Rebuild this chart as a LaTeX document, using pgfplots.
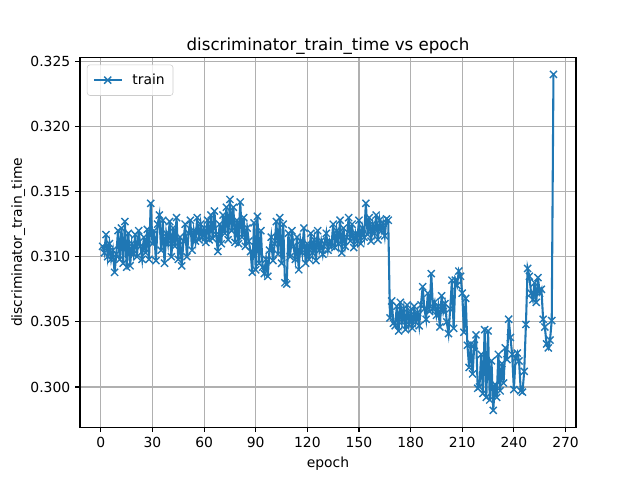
\documentclass[border=0pt]{standalone}
\usepackage{fontspec}
\setmainfont{DejaVu Sans}
\usepackage{pgfplots}
\pgfplotsset{compat=1.18}
\definecolor{mplblue}{HTML}{1F77B4}
\definecolor{mplgrid}{HTML}{B0B0B0}
\definecolor{legframe}{HTML}{CCCCCC}
\begin{document}
\begin{tikzpicture}
\useasboundingbox (-0.8in,-0.528in) rectangle (5.6in,4.272in);
\begin{axis}[
  at={(0,0)}, anchor=south west,
  scale only axis,
  width=4.96in, height=3.696in,
  xmin=-12.1, xmax=276.1,
  ymin=0.29691, ymax=0.32529,
  xtick={0,30,...,270},
  ytick={0.300,0.305,0.310,0.315,0.320,0.325},
  scaled y ticks=false,
  /pgf/number format/assume math mode=true,
  y tick label style={/pgf/number format/.cd, fixed, fixed zerofill, precision=3},
  tick label style={font=\fontsize{10bp}{12bp}\selectfont},
  label style={font=\fontsize{10bp}{12bp}\selectfont},
  ylabel style={yshift=-3bp},
  title style={font=\fontsize{12bp}{14bp}\selectfont, yshift=-7bp},
  tick pos=left, tick align=outside,
  major tick length=3.5bp,
  tick style={line width=0.8bp, black},
  axis line style={line width=0.8bp},
  grid=major,
  major grid style={color=mplgrid, line width=0.8bp},
  title={discriminator\_train\_time vs epoch},
  xlabel={epoch},
  ylabel={discriminator\_train\_time},
  legend style={at={(0,1)}, anchor=north west, xshift=5bp, yshift=-5bp,
    draw=legframe, fill=white, fill opacity=0.8, text opacity=1,
    rounded corners=2bp, font=\fontsize{10bp}{12bp}\selectfont,
    inner xsep=4bp, inner ysep=4.5bp},
  legend cell align=left,
  legend image code/.code={
    \draw[mark repeat=2, mark phase=2] plot coordinates {(0bp,0bp) (10bp,0bp) (20bp,0bp)};
  },
]
\addplot[color=mplblue, line width=1.5bp, mark=x, mark size=3.6bp,
  mark options={line width=1bp, solid}] coordinates {
(1,0.3108) (2,0.3103) (3,0.3117) (4,0.3100) (5,0.3110) (6,0.3098) (7,0.3105) (8,0.3088) (9,0.3102) (10,0.3120)
(11,0.3098) (12,0.3122) (13,0.3095) (14,0.3127) (15,0.3092) (16,0.3118) (17,0.3093) (18,0.3110) (19,0.3102) (20,0.3117)
(21,0.3100) (22,0.3120) (23,0.3108) (24,0.3098) (25,0.3115) (26,0.3103) (27,0.3121) (28,0.3098) (29,0.3141) (30,0.3110)
(31,0.3120) (32,0.3097) (33,0.3125) (34,0.3132) (35,0.3105) (36,0.3128) (37,0.3095) (38,0.3118) (39,0.3110) (40,0.3127)
(41,0.3100) (42,0.3122) (43,0.3108) (44,0.3130) (45,0.3098) (46,0.3115) (47,0.3093) (48,0.3112) (49,0.3125) (50,0.3100)
(51,0.3118) (52,0.3128) (53,0.3105) (54,0.3120) (55,0.3112) (56,0.3130) (57,0.3113) (58,0.3125) (59,0.3115) (60,0.3122)
(61,0.3111) (62,0.3128) (63,0.3113) (64,0.3132) (65,0.3114) (66,0.3135) (67,0.3117) (68,0.3104) (69,0.3125) (70,0.3110)
(71,0.3132) (72,0.3118) (73,0.3138) (74,0.3113) (75,0.3144) (76,0.3120) (77,0.3138) (78,0.3111) (79,0.3128) (80,0.3110)
(81,0.3142) (82,0.3115) (83,0.3130) (84,0.3108) (85,0.3122) (86,0.3112) (87,0.3104) (88,0.3088) (89,0.3126) (90,0.3090)
(91,0.3131) (92,0.3095) (93,0.3120) (94,0.3092) (95,0.3087) (96,0.3098) (97,0.3085) (98,0.3105) (99,0.3115) (100,0.3097)
(101,0.3110) (102,0.3127) (103,0.3102) (104,0.3130) (105,0.3095) (106,0.3125) (107,0.3080) (108,0.3079) (109,0.3118) (110,0.3100)
(111,0.3120) (112,0.3108) (113,0.3098) (114,0.3115) (115,0.3090) (116,0.3112) (117,0.3103) (118,0.3122) (119,0.3095) (120,0.3110)
(121,0.3098) (122,0.3118) (123,0.3103) (124,0.3113) (125,0.3097) (126,0.3120) (127,0.3105) (128,0.3112) (129,0.3102) (130,0.3110)
(131,0.3118) (132,0.3105) (133,0.3112) (134,0.3108) (135,0.3125) (136,0.3107) (137,0.3120) (138,0.3110) (139,0.3128) (140,0.3103)
(141,0.3122) (142,0.3108) (143,0.3115) (144,0.3130) (145,0.3112) (146,0.3125) (147,0.3107) (148,0.3118) (149,0.3112) (150,0.3128)
(151,0.3110) (152,0.3122) (153,0.3115) (154,0.3141) (155,0.3117) (156,0.3130) (157,0.3112) (158,0.3125) (159,0.3118) (160,0.3132)
(161,0.3113) (162,0.3128) (163,0.3120) (164,0.3126) (165,0.3116) (166,0.3129) (167,0.3128) (168,0.3053) (169,0.3066) (170,0.3049)
(171,0.3047) (172,0.3062) (173,0.3043) (174,0.3065) (175,0.3050) (176,0.3060) (177,0.3044) (178,0.3063) (179,0.3048) (180,0.3058)
(181,0.3045) (182,0.3062) (183,0.3050) (184,0.3057) (185,0.3047) (186,0.3063) (187,0.3077) (188,0.3060) (189,0.3052) (190,0.3072)
(191,0.3058) (192,0.3087) (193,0.3060) (194,0.3065) (195,0.3055) (196,0.3062) (197,0.3046) (198,0.3070) (199,0.3058) (200,0.3064)
(201,0.3050) (202,0.3041) (203,0.3060) (204,0.3082) (205,0.3045) (206,0.3082) (207,0.3078) (208,0.3089) (209,0.3085) (210,0.3072)
(211,0.3042) (212,0.3068) (213,0.3032) (214,0.3015) (215,0.3033) (216,0.3010) (217,0.3032) (218,0.3040) (219,0.2999) (220,0.3000)
(221,0.3025) (222,0.2995) (223,0.3044) (224,0.2992) (225,0.3043) (226,0.2990) (227,0.3020) (228,0.2982) (229,0.3002) (230,0.2992)
(231,0.3025) (232,0.2997) (233,0.3018) (234,0.3003) (235,0.3030) (236,0.3021) (237,0.3052) (238,0.3038) (239,0.3025) (240,0.2998)
(241,0.3022) (242,0.3026) (243,0.3020) (244,0.2997) (245,0.2996) (246,0.3012) (247,0.3048) (248,0.3091) (249,0.3085) (250,0.3072)
(251,0.3067) (252,0.3080) (253,0.3065) (254,0.3084) (255,0.3072) (256,0.3075) (257,0.3052) (258,0.3046) (259,0.3033) (260,0.3030)
(261,0.3036) (262,0.3051) (263,0.3240)
};
\addlegendentry{\hspace{5bp}train}
\end{axis}
\end{tikzpicture}
\end{document}
